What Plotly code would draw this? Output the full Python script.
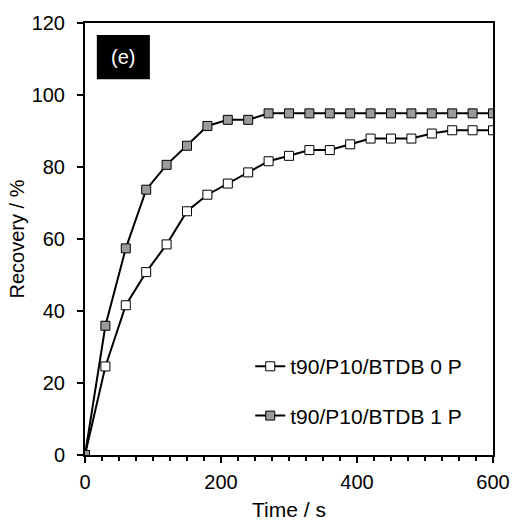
import plotly.graph_objs as go

# time points (s)
time_s = [0, 30, 60, 90, 120, 150, 180, 210, 240, 270, 300, 330, 360,
          390, 420, 450, 480, 510, 540, 570, 600]

# recovery (%)
recovery_0p = [0, 24.6, 41.6, 50.8, 58.5, 67.7, 72.3, 75.4, 78.5, 81.6, 83.1,
               84.7, 84.7, 86.3, 87.9, 87.9, 87.9, 89.3, 90.2, 90.2, 90.2]
recovery_1p = [0, 35.9, 57.4, 73.7, 80.6, 85.9, 91.4, 93.1, 93.1, 94.9, 94.9,
               94.9, 94.9, 94.9, 94.9, 94.9, 94.9, 94.9, 94.9, 94.9, 94.9]

series_names = ['t90/P10/BTDB 0 P', 't90/P10/BTDB 1 P']
panel_label = '(e)'

FONT = 'Liberation Sans, Arial, sans-serif'
FS = 20

fig = go.Figure()
fig.add_trace(go.Scatter(
    x=time_s, y=recovery_0p,
    mode='lines+markers',
    name=series_names[0],
    legendgroup='a',
    line=dict(color='black', width=2),
    marker=dict(symbol='square', size=9, color='white',
                line=dict(color='black', width=1))
))
fig.add_trace(go.Scatter(
    x=time_s, y=recovery_1p,
    mode='lines+markers',
    name=series_names[1],
    legendgroup='b',
    line=dict(color='black', width=2),
    marker=dict(symbol='square', size=9, color='#9a9a9a',
                line=dict(color='black', width=1))
))

axis_common = dict(
    showline=True, linecolor='black', linewidth=2, mirror=True,
    showgrid=False, zeroline=False, automargin=False,
    ticks='outside', ticklen=6, tickcolor='black', tickwidth=1.5,
    tickfont=dict(family=FONT, size=FS, color='black'),
)

fig.update_xaxes(
    range=[0, 600], dtick=200, ticklabelstandoff=2,
    title=dict(text='Time / s', font=dict(family=FONT, size=21, color='black'),
               standoff=11),
    minor=dict(dtick=25, ticks='outside', ticklen=4, tickcolor='black'),
    **axis_common
)
fig.update_yaxes(
    range=[0, 120], dtick=20, ticklabelstandoff=8,
    title=dict(text='Recovery / %', font=dict(family=FONT, size=FS, color='black'),
               standoff=2),
    **axis_common
)

# panel label box
fig.add_shape(type='rect', xref='paper', yref='paper',
              x0=0.029, x1=0.159, y0=0.870, y1=0.972,
              fillcolor='black', line=dict(width=0), layer='above')
fig.add_annotation(text=panel_label, xref='paper', yref='paper',
                   x=0.094, y=0.921, xanchor='center', yanchor='middle',
                   showarrow=False,
                   font=dict(family=FONT, size=FS, color='white'))

fig.update_layout(
    width=514, height=521,
    margin=dict(l=85, r=21, t=23, b=66),
    paper_bgcolor='white', plot_bgcolor='white',
    font=dict(family=FONT, size=FS, color='black'),
    legend=dict(x=0.405, y=0.252, xanchor='left', yanchor='top',
                bgcolor='rgba(0,0,0,0)', tracegroupgap=19,
                traceorder='grouped',
                font=dict(family=FONT, size=21, color='black')),
    showlegend=True,
)

# drop the default 8px page margin so the figure fills the window
fig.write_html('out.html', config={'displayModeBar': False},
               post_script="document.body.style.margin='0';")
